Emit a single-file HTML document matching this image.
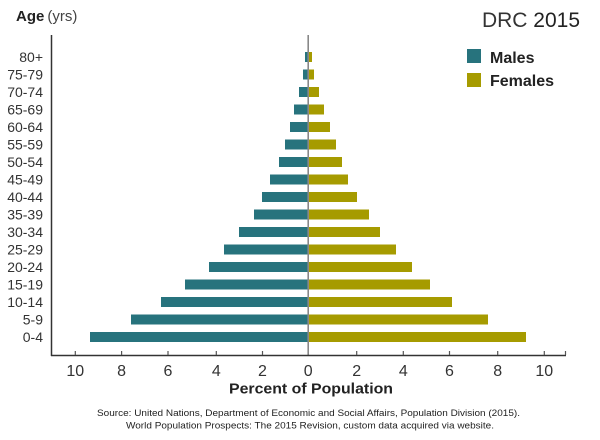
<!DOCTYPE html>
<html><head><meta charset="utf-8"><style>
html,body{margin:0;padding:0;background:#fff;}
svg{display:block;font-family:"Liberation Sans",sans-serif;}
</style></head><body>
<svg width="600" height="440" viewBox="0 0 600 440" xmlns="http://www.w3.org/2000/svg">
<rect width="600" height="440" fill="#fff"/>
<!-- title -->
<text x="16" y="21" font-size="15" fill="#222"><tspan font-weight="bold">Age</tspan><tspan fill="#444" dx="3">(yrs)</tspan></text>
<text x="580" y="27" font-size="21" fill="#333" text-anchor="end"><tspan>DRC</tspan> <tspan fill="#222">2015</tspan></text>
<!-- legend -->
<rect x="467" y="49" width="14" height="14" fill="#27737d"/>
<rect x="467" y="73" width="14" height="14" fill="#a69b00"/>
<text x="490" y="63" font-size="16" font-weight="bold" fill="#222">Males</text>
<text x="490" y="86" font-size="16" font-weight="bold" fill="#222">Females</text>
<!-- bars -->
<g fill="#27737d">
<rect x="305" y="52" width="3" height="10"/>
<rect x="303" y="69.5" width="5" height="10"/>
<rect x="299" y="87" width="9" height="10"/>
<rect x="294" y="104.5" width="14" height="10"/>
<rect x="290" y="122" width="18" height="10"/>
<rect x="285" y="139.5" width="23" height="10"/>
<rect x="279" y="157" width="29" height="10"/>
<rect x="270" y="174.5" width="38" height="10"/>
<rect x="262" y="192" width="46" height="10"/>
<rect x="254" y="209.5" width="54" height="10"/>
<rect x="239" y="227" width="69" height="10"/>
<rect x="224" y="244.5" width="84" height="10"/>
<rect x="209" y="262" width="99" height="10"/>
<rect x="185" y="279.5" width="123" height="10"/>
<rect x="161" y="297" width="147" height="10"/>
<rect x="131" y="314.5" width="177" height="10"/>
<rect x="90" y="332" width="218" height="10"/>
</g>
<g fill="#a69b00">
<rect x="308" y="52" width="4" height="10"/>
<rect x="308" y="69.5" width="6" height="10"/>
<rect x="308" y="87" width="11" height="10"/>
<rect x="308" y="104.5" width="16" height="10"/>
<rect x="308" y="122" width="22" height="10"/>
<rect x="308" y="139.5" width="28" height="10"/>
<rect x="308" y="157" width="34" height="10"/>
<rect x="308" y="174.5" width="40" height="10"/>
<rect x="308" y="192" width="49" height="10"/>
<rect x="308" y="209.5" width="61" height="10"/>
<rect x="308" y="227" width="72" height="10"/>
<rect x="308" y="244.5" width="88" height="10"/>
<rect x="308" y="262" width="104" height="10"/>
<rect x="308" y="279.5" width="122" height="10"/>
<rect x="308" y="297" width="144" height="10"/>
<rect x="308" y="314.5" width="180" height="10"/>
<rect x="308" y="332" width="218" height="10"/>
</g>
<!-- center line -->
<line x1="308.2" y1="35" x2="308.2" y2="355" stroke="#888" stroke-width="1.6"/>
<!-- axes -->
<line x1="51.5" y1="35" x2="51.5" y2="356" stroke="#333" stroke-width="1.5"/>
<line x1="51" y1="355.5" x2="566" y2="355.5" stroke="#333" stroke-width="1.5"/>
<g stroke="#555" stroke-width="1.2">
<line x1="75.3" y1="351" x2="75.3" y2="355"/>
<line x1="121.6" y1="351" x2="121.6" y2="355"/>
<line x1="168" y1="351" x2="168" y2="355"/>
<line x1="216.3" y1="351" x2="216.3" y2="355"/>
<line x1="262.5" y1="351" x2="262.5" y2="355"/>
<line x1="356.7" y1="351" x2="356.7" y2="355"/>
<line x1="403.3" y1="351" x2="403.3" y2="355"/>
<line x1="449.5" y1="351" x2="449.5" y2="355"/>
<line x1="497.7" y1="351" x2="497.7" y2="355"/>
<line x1="544.3" y1="351" x2="544.3" y2="355"/>
<line x1="565.5" y1="351" x2="565.5" y2="355"/>
</g>
<!-- y labels -->
<g font-size="14" fill="#333" text-anchor="end">
<text x="43" y="62">80+</text>
<text x="43" y="79.5">75-79</text>
<text x="43" y="97">70-74</text>
<text x="43" y="114.5">65-69</text>
<text x="43" y="132">60-64</text>
<text x="43" y="149.5">55-59</text>
<text x="43" y="167">50-54</text>
<text x="43" y="184.5">45-49</text>
<text x="43" y="202">40-44</text>
<text x="43" y="219.5">35-39</text>
<text x="43" y="237">30-34</text>
<text x="43" y="254.5">25-29</text>
<text x="43" y="272">20-24</text>
<text x="43" y="289.5">15-19</text>
<text x="43" y="307">10-14</text>
<text x="43" y="324.5">5-9</text>
<text x="43" y="342">0-4</text>
</g>
<!-- x labels -->
<g font-size="16" fill="#333" text-anchor="middle">
<text x="75.3" y="376">10</text>
<text x="121.6" y="376">8</text>
<text x="168" y="376">6</text>
<text x="216.3" y="376">4</text>
<text x="262.5" y="376">2</text>
<text x="308.2" y="376">0</text>
<text x="356.7" y="376">2</text>
<text x="403.3" y="376">4</text>
<text x="449.5" y="376">6</text>
<text x="497.7" y="376">8</text>
<text x="544.3" y="376">10</text>
</g>
<text x="229" y="393.5" font-size="15" font-weight="bold" fill="#222" textLength="164" lengthAdjust="spacingAndGlyphs">Percent of Population</text>
<text x="97" y="416" font-size="9" fill="#222" textLength="423" lengthAdjust="spacingAndGlyphs">Source: United Nations, Department of Economic and Social Affairs, Population Division (2015).</text>
<text x="126" y="428.5" font-size="9" fill="#222" textLength="368" lengthAdjust="spacingAndGlyphs">World Population Prospects: The 2015 Revision, custom data acquired via website.</text>
</svg>
</body></html>
